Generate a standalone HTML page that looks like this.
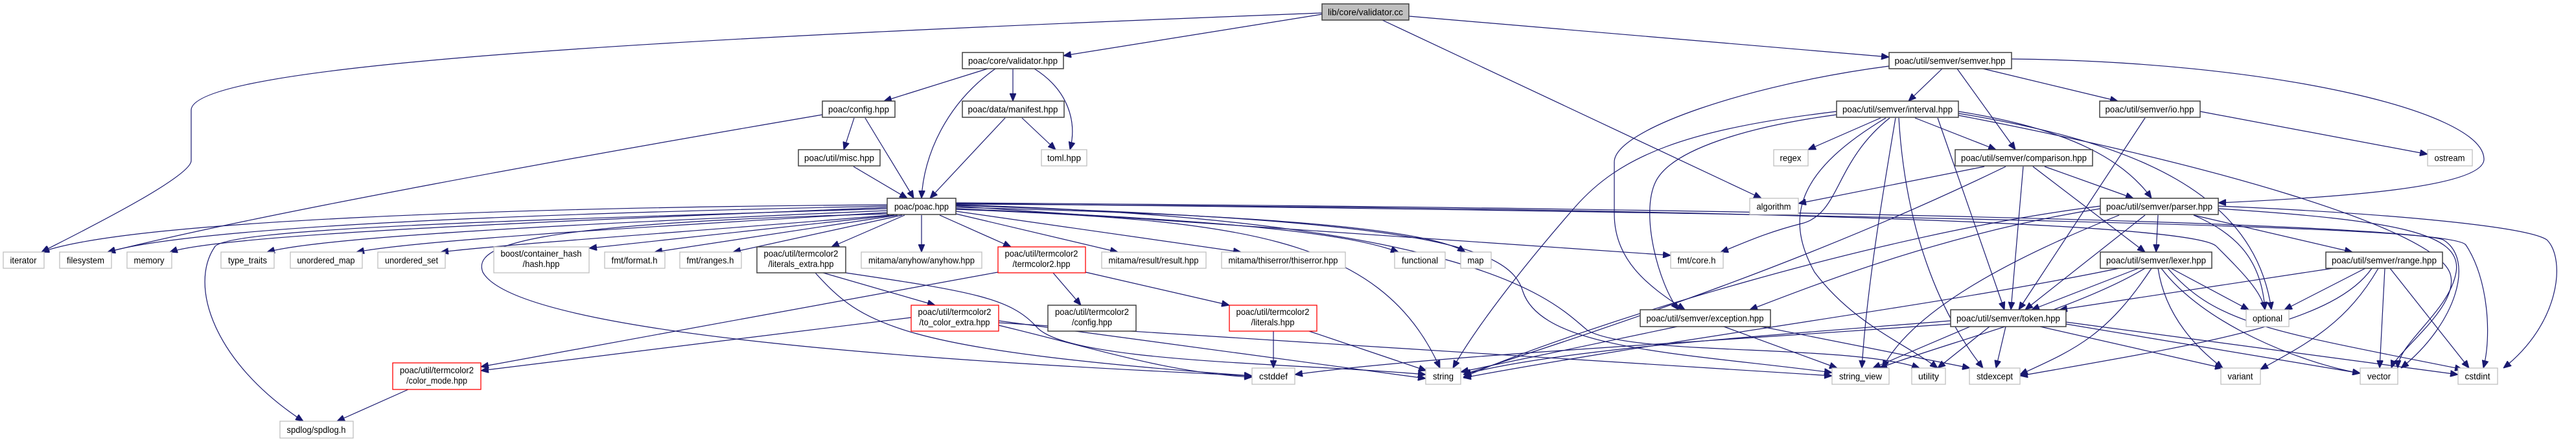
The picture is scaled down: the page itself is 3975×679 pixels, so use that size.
<!DOCTYPE html>
<html><head><meta charset="utf-8"><style>
html,body{margin:0;padding:0;background:#fff;}
svg{display:block;}
text{font-family:"Liberation Sans",Arial,sans-serif;font-size:14px;fill:#000;}
.e{fill:none;stroke:#191970;stroke-width:1.2;marker-end:url(#a);}
.b{fill:#fff;stroke:#404040;stroke-width:1.5;}
.g{fill:#fff;stroke:#bfbfbf;stroke-width:1.3;}
.r{fill:#fff;stroke:#ff0000;stroke-width:1.3;}
</style></head><body>
<svg width="3975" height="679" viewBox="0 0 3975 679" xmlns="http://www.w3.org/2000/svg">
<defs><marker id="a" markerUnits="userSpaceOnUse" markerWidth="12" markerHeight="10" refX="12" refY="5" orient="auto"><path d="M0,0 L12,5 L0,10 z" fill="#191970" stroke="#191970"/></marker></defs>
<g>
<!-- validator.cc -->
<path class="e" d="M2040,22 L1641,86"/>
<path class="e" d="M2174,25 L2915,88"/>
<path class="e" d="M2133,31 L2718,306"/>
<path class="e" d="M2040,20 C1000,60 295,100 295,170 L295,248 C295,275 100,370 64,389"/>
<!-- validator.hpp -->
<path class="e" d="M1524,106 L1364,156"/>
<path class="e" d="M1536,106 C1460,160 1425,240 1422,306"/>
<path class="e" d="M1563,106 L1563,156"/>
<path class="e" d="M1596,106 C1650,140 1662,190 1651,231"/>
<!-- config/misc/manifest -->
<path class="e" d="M1269,177 C900,240 400,330 166,389"/>
<path class="e" d="M1318,182 L1302,231"/>
<path class="e" d="M1335,182 C1370,240 1395,280 1410,306"/>
<path class="e" d="M1317,257 L1400,306"/>
<path class="e" d="M1551,182 L1435,306"/>
<path class="e" d="M1577,182 L1629,231"/>
<!-- poac.hpp -->
<path class="e" d="M1369,316 C800,320 200,340 64,389"/>
<path class="e" d="M1369,318 C800,330 300,350 166,389"/>
<path class="e" d="M1369,320 C900,340 350,360 262,389"/>
<path class="e" d="M1369,322 C800,340 360,352 332,380 C290,440 330,560 468,650"/>
<path class="e" d="M1369,325 C900,345 500,365 412,389"/>
<path class="e" d="M1369,328 C1000,350 650,370 550,389"/>
<path class="e" d="M1372,332 C1100,355 800,375 680,389"/>
<path class="e" d="M1369,330 C800,345 730,380 745,420 C800,520 1500,560 1932,580"/>
<path class="e" d="M1380,332 L909,383"/>
<path class="e" d="M1385,332 L1010,389"/>
<path class="e" d="M1392,332 L1131,389"/>
<path class="e" d="M1396,332 L1283,381"/>
<path class="e" d="M1422,332 L1422,389"/>
<path class="e" d="M1450,332 L1560,381"/>
<path class="e" d="M1475,330 L1725,389"/>
<path class="e" d="M1475,326 L1915,389"/>
<path class="e" d="M1475,322 C1900,340 2080,360 2158,389"/>
<path class="e" d="M1475,320 C1900,330 2200,350 2261,389"/>
<path class="e" d="M1475,318 L2578,394"/>
<path class="e" d="M1475,323 C1900,340 2130,360 2222,568"/>
<path class="e" d="M1475,317 C2200,340 2330,380 2350,450 C2380,540 2600,545 2827,575"/>
<path class="e" d="M1475,316 C2300,340 2400,470 2450,510 C2520,550 2850,530 2962,568"/>
<path class="e" d="M1475,315 C2500,320 3380,340 3420,380 C3460,420 3490,450 3495,478"/>
<path class="e" d="M1475,313 C2500,320 3780,340 3805,378 C3840,430 3845,520 3832,568"/>
<path class="e" d="M1475,314 C2500,325 3700,345 3770,370 C3820,400 3790,500 3705,568"/>
<!-- literals_extra -->
<path class="e" d="M1270,421 L1443,471"/>
<path class="e" d="M1258,421 C1330,500 1380,540 1932,580"/>
<path class="e" d="M1305,421 C1500,450 1560,460 1600,505 C1650,560 2000,560 2200,578"/>
<!-- termcolor2 -->
<path class="e" d="M1540,420 L742,566"/>
<path class="e" d="M1625,421 L1668,471"/>
<path class="e" d="M1675,420 L1897,471"/>
<!-- to_color_extra -->
<path class="e" d="M1406,490 L742,572"/>
<path class="e" d="M1541,502 C1700,540 1800,575 1932,582"/>
<path class="e" d="M1541,495 L2200,584"/>
<path class="e" d="M1541,498 L2827,580"/>
<!-- literals -->
<path class="e" d="M1965,511 L1965,568"/>
<path class="e" d="M2020,511 L2201,572"/>
<!-- color_mode -->
<path class="e" d="M630,601 L520,650"/>
<!-- semver.hpp -->
<path class="e" d="M2997,106 L2945,156"/>
<path class="e" d="M3020,106 L3110,231"/>
<path class="e" d="M3060,106 L3268,156"/>
<path class="e" d="M3104,91 C3500,95 3830,170 3833,245 C3835,290 3600,305 3423,313"/>
<path class="e" d="M2915,102 C2700,130 2491,200 2491,250 L2491,330 C2491,400 2540,440 2600,478"/>
<!-- interval -->
<path class="e" d="M2902,182 L2790,231"/>
<path class="e" d="M2916,182 C2830,250 2840,330 2780,345 C2720,360 2680,380 2655,389"/>
<path class="e" d="M2834,177 C2700,195 2580,230 2555,280 C2530,330 2560,440 2590,478"/>
<path class="e" d="M2834,172 C2600,200 2500,240 2430,320 C2360,400 2280,500 2242,568"/>
<path class="e" d="M2925,182 C2905,300 2880,450 2873,568"/>
<path class="e" d="M2910,182 C2780,260 2750,330 2800,420 C2860,500 2940,530 2990,568"/>
<path class="e" d="M2955,182 L3080,231"/>
<path class="e" d="M3022,172 C3200,200 3280,250 3320,306"/>
<path class="e" d="M2990,182 L3093,478"/>
<path class="e" d="M2930,182 C2940,350 2990,480 3060,568"/>
<path class="e" d="M3022,175 C3300,220 3480,300 3505,478"/>
<path class="e" d="M3022,178 C3400,250 3750,350 3780,420 C3800,470 3700,540 3690,568"/>
<!-- io -->
<path class="e" d="M3395,172 L3746,238"/>
<path class="e" d="M3310,182 L3115,478"/>
<!-- comparison -->
<path class="e" d="M3062,257 L2775,314"/>
<path class="e" d="M3155,257 L3292,306"/>
<path class="e" d="M3137,257 L3310,389"/>
<path class="e" d="M3122,257 L3103,478"/>
<path class="e" d="M3095,257 C2800,400 2500,500 2258,578"/>
<!-- parser -->
<path class="e" d="M3330,332 L3327,389"/>
<path class="e" d="M3385,332 L3630,389"/>
<path class="e" d="M3310,332 L3125,478"/>
<path class="e" d="M3385,332 C3450,360 3490,400 3495,478"/>
<path class="e" d="M3241,322 C3000,360 2800,440 2700,478"/>
<path class="e" d="M3241,318 C2900,360 2450,500 2258,582"/>
<path class="e" d="M3423,318 C3700,330 3900,350 3930,370 C3960,400 3950,500 3863,568"/>
<path class="e" d="M3423,322 C3700,340 3800,360 3790,420 C3780,480 3700,530 3700,568"/>
<path class="e" d="M3270,332 C3100,400 2950,480 2905,568"/>
<!-- lexer -->
<path class="e" d="M3300,414 L3135,478"/>
<path class="e" d="M3350,414 L3470,478"/>
<path class="e" d="M3330,414 C3340,480 3380,530 3430,568"/>
<path class="e" d="M3335,414 C3400,500 3550,560 3642,576"/>
<path class="e" d="M3345,414 C3420,500 3500,510 3800,570"/>
<path class="e" d="M3270,414 C3000,470 2600,520 2258,583"/>
<path class="e" d="M3320,414 C3250,520 3200,540 3117,578"/>
<path class="e" d="M3310,414 C3200,480 3000,530 2900,568"/>
<!-- range -->
<path class="e" d="M3600,414 L3178,478"/>
<path class="e" d="M3650,414 L3525,478"/>
<path class="e" d="M3670,414 C3620,500 3560,530 3488,570"/>
<path class="e" d="M3680,414 L3672,568"/>
<path class="e" d="M3688,414 L3810,568"/>
<path class="e" d="M3660,414 C3600,500 3400,530 3117,580"/>
<!-- token -->
<path class="e" d="M3010,495 C2700,520 2400,540 2258,578"/>
<path class="e" d="M3040,504 L2890,568"/>
<path class="e" d="M3095,504 L3080,568"/>
<path class="e" d="M3070,504 L2990,568"/>
<path class="e" d="M3148,504 L3430,568"/>
<path class="e" d="M3188,500 L3642,576"/>
<path class="e" d="M3188,497 L3793,578"/>
<path class="e" d="M3010,500 C2600,530 2200,550 1998,578"/>
<!-- exception -->
<path class="e" d="M2588,504 L2254,574"/>
<path class="e" d="M2660,504 L2835,568"/>
<path class="e" d="M2718,504 L3040,568"/>
</g>
<g>
<rect x="2040" y="6" width="134" height="25" fill="#bfbfbf" stroke="#404040" stroke-width="1.5"/><text x="2107" y="23.5" text-anchor="middle" textLength="116" lengthAdjust="spacingAndGlyphs">lib/core/validator.cc</text>
<rect class="b" x="1485" y="81" width="156" height="25"/><text x="1563" y="98.5" text-anchor="middle" textLength="138" lengthAdjust="spacingAndGlyphs">poac/core/validator.hpp</text>
<rect class="b" x="2915" y="81" width="189" height="25"/><text x="3009" y="98.5" text-anchor="middle" textLength="171" lengthAdjust="spacingAndGlyphs">poac/util/semver/semver.hpp</text>
<rect class="b" x="1269" y="156" width="112" height="25"/><text x="1325" y="173.5" text-anchor="middle" textLength="94" lengthAdjust="spacingAndGlyphs">poac/config.hpp</text>
<rect class="b" x="1485" y="156" width="157" height="25"/><text x="1563" y="173.5" text-anchor="middle" textLength="139" lengthAdjust="spacingAndGlyphs">poac/data/manifest.hpp</text>
<rect class="b" x="2834" y="156" width="188" height="25"/><text x="2928" y="173.5" text-anchor="middle" textLength="170" lengthAdjust="spacingAndGlyphs">poac/util/semver/interval.hpp</text>
<rect class="b" x="3240" y="156" width="155" height="25"/><text x="3317" y="173.5" text-anchor="middle" textLength="137" lengthAdjust="spacingAndGlyphs">poac/util/semver/io.hpp</text>
<rect class="b" x="1232" y="231" width="126" height="25"/><text x="1295" y="248.5" text-anchor="middle" textLength="108" lengthAdjust="spacingAndGlyphs">poac/util/misc.hpp</text>
<rect class="g" x="1607" y="231" width="70" height="25"/><text x="1642" y="248.5" text-anchor="middle" textLength="52" lengthAdjust="spacingAndGlyphs">toml.hpp</text>
<rect class="g" x="2737" y="231" width="53" height="25"/><text x="2763" y="248.5" text-anchor="middle" textLength="33" lengthAdjust="spacingAndGlyphs">regex</text>
<rect class="b" x="3017" y="231" width="212" height="25"/><text x="3123" y="248.5" text-anchor="middle" textLength="194" lengthAdjust="spacingAndGlyphs">poac/util/semver/comparison.hpp</text>
<rect class="g" x="3746" y="231" width="69" height="25"/><text x="3780" y="248.5" text-anchor="middle" textLength="47" lengthAdjust="spacingAndGlyphs">ostream</text>
<rect class="b" x="1369" y="306" width="106" height="25"/><text x="1422" y="323.5" text-anchor="middle" textLength="84" lengthAdjust="spacingAndGlyphs">poac/poac.hpp</text>
<rect class="g" x="2700" y="306" width="75" height="25"/><text x="2737" y="323.5" text-anchor="middle" textLength="53" lengthAdjust="spacingAndGlyphs">algorithm</text>
<rect class="b" x="3241" y="306" width="182" height="25"/><text x="3332" y="323.5" text-anchor="middle" textLength="164" lengthAdjust="spacingAndGlyphs">poac/util/semver/parser.hpp</text>

<rect class="g" x="5" y="389" width="63" height="25"/><text x="36" y="406.5" text-anchor="middle" textLength="41" lengthAdjust="spacingAndGlyphs">iterator</text>
<rect class="g" x="92" y="389" width="80" height="25"/><text x="132" y="406.5" text-anchor="middle" textLength="58" lengthAdjust="spacingAndGlyphs">filesystem</text>
<rect class="g" x="196" y="389" width="69" height="25"/><text x="230" y="406.5" text-anchor="middle" textLength="47" lengthAdjust="spacingAndGlyphs">memory</text>
<rect class="g" x="341" y="389" width="82" height="25"/><text x="382" y="406.5" text-anchor="middle" textLength="60" lengthAdjust="spacingAndGlyphs">type_traits</text>
<rect class="g" x="448" y="389" width="111" height="25"/><text x="503" y="406.5" text-anchor="middle" textLength="89" lengthAdjust="spacingAndGlyphs">unordered_map</text>
<rect class="g" x="583" y="389" width="104" height="25"/><text x="635" y="406.5" text-anchor="middle" textLength="82" lengthAdjust="spacingAndGlyphs">unordered_set</text>
<rect class="g" x="762" y="381" width="147" height="40"/><text x="835" y="396" text-anchor="middle" textLength="125" lengthAdjust="spacingAndGlyphs">boost/container_hash</text><text x="835" y="412" text-anchor="middle" textLength="57" lengthAdjust="spacingAndGlyphs">/hash.hpp</text>
<rect class="g" x="933" y="389" width="93" height="25"/><text x="979" y="406.5" text-anchor="middle" textLength="71" lengthAdjust="spacingAndGlyphs">fmt/format.h</text>
<rect class="g" x="1049" y="389" width="95" height="25"/><text x="1096" y="406.5" text-anchor="middle" textLength="73" lengthAdjust="spacingAndGlyphs">fmt/ranges.h</text>
<rect class="b" x="1168" y="381" width="137" height="40"/><text x="1236" y="396" text-anchor="middle" textLength="115" lengthAdjust="spacingAndGlyphs">poac/util/termcolor2</text><text x="1236" y="412" text-anchor="middle" textLength="101" lengthAdjust="spacingAndGlyphs">/literals_extra.hpp</text>
<rect class="g" x="1329" y="389" width="186" height="25"/><text x="1422" y="406.5" text-anchor="middle" textLength="164" lengthAdjust="spacingAndGlyphs">mitama/anyhow/anyhow.hpp</text>
<rect class="r" x="1540" y="381" width="135" height="40"/><text x="1607" y="396" text-anchor="middle" textLength="113" lengthAdjust="spacingAndGlyphs">poac/util/termcolor2</text><text x="1607" y="412" text-anchor="middle" textLength="89" lengthAdjust="spacingAndGlyphs">/termcolor2.hpp</text>
<rect class="g" x="1700" y="389" width="161" height="25"/><text x="1780" y="406.5" text-anchor="middle" textLength="139" lengthAdjust="spacingAndGlyphs">mitama/result/result.hpp</text>
<rect class="g" x="1885" y="389" width="191" height="25"/><text x="1980" y="406.5" text-anchor="middle" textLength="169" lengthAdjust="spacingAndGlyphs">mitama/thiserror/thiserror.hpp</text>
<rect class="g" x="2152" y="389" width="78" height="25"/><text x="2191" y="406.5" text-anchor="middle" textLength="56" lengthAdjust="spacingAndGlyphs">functional</text>
<rect class="g" x="2254" y="389" width="47" height="25"/><text x="2277" y="406.5" text-anchor="middle" textLength="25" lengthAdjust="spacingAndGlyphs">map</text>
<rect class="g" x="2578" y="389" width="81" height="25"/><text x="2618" y="406.5" text-anchor="middle" textLength="59" lengthAdjust="spacingAndGlyphs">fmt/core.h</text>
<rect class="b" x="3241" y="389" width="172" height="25"/><text x="3327" y="406.5" text-anchor="middle" textLength="154" lengthAdjust="spacingAndGlyphs">poac/util/semver/lexer.hpp</text>
<rect class="b" x="3589" y="389" width="180" height="25"/><text x="3679" y="406.5" text-anchor="middle" textLength="162" lengthAdjust="spacingAndGlyphs">poac/util/semver/range.hpp</text>

<rect class="r" x="1406" y="471" width="135" height="40"/><text x="1473" y="486" text-anchor="middle" textLength="113" lengthAdjust="spacingAndGlyphs">poac/util/termcolor2</text><text x="1473" y="502" text-anchor="middle" textLength="109" lengthAdjust="spacingAndGlyphs">/to_color_extra.hpp</text>
<rect class="b" x="1617" y="471" width="136" height="40"/><text x="1685" y="486" text-anchor="middle" textLength="114" lengthAdjust="spacingAndGlyphs">poac/util/termcolor2</text><text x="1685" y="502" text-anchor="middle" textLength="62" lengthAdjust="spacingAndGlyphs">/config.hpp</text>
<rect class="r" x="1897" y="471" width="135" height="40"/><text x="1964" y="486" text-anchor="middle" textLength="113" lengthAdjust="spacingAndGlyphs">poac/util/termcolor2</text><text x="1964" y="502" text-anchor="middle" textLength="67" lengthAdjust="spacingAndGlyphs">/literals.hpp</text>
<rect class="b" x="2531" y="478" width="201" height="26"/><text x="2631" y="496" text-anchor="middle" textLength="181" lengthAdjust="spacingAndGlyphs">poac/util/semver/exception.hpp</text>
<rect class="b" x="3010" y="478" width="178" height="26"/><text x="3099" y="496" text-anchor="middle" textLength="160" lengthAdjust="spacingAndGlyphs">poac/util/semver/token.hpp</text>
<rect class="g" x="3466" y="478" width="66" height="26"/><text x="3499" y="496" text-anchor="middle" textLength="46" lengthAdjust="spacingAndGlyphs">optional</text>

<rect class="r" x="606" y="560" width="136" height="41"/><text x="674" y="576" text-anchor="middle" textLength="114" lengthAdjust="spacingAndGlyphs">poac/util/termcolor2</text><text x="674" y="592" text-anchor="middle" textLength="94" lengthAdjust="spacingAndGlyphs">/color_mode.hpp</text>

<rect class="g" x="1932" y="568" width="66" height="25"/><text x="1965" y="585.5" text-anchor="middle" textLength="44" lengthAdjust="spacingAndGlyphs">cstddef</text>
<rect class="g" x="2200" y="568" width="54" height="25"/><text x="2227" y="585.5" text-anchor="middle" textLength="32" lengthAdjust="spacingAndGlyphs">string</text>
<rect class="g" x="2827" y="568" width="88" height="25"/><text x="2871" y="585.5" text-anchor="middle" textLength="66" lengthAdjust="spacingAndGlyphs">string_view</text>
<rect class="g" x="2950" y="568" width="52" height="25"/><text x="2976" y="585.5" text-anchor="middle" textLength="32" lengthAdjust="spacingAndGlyphs">utility</text>
<rect class="g" x="3039" y="568" width="78" height="25"/><text x="3078" y="585.5" text-anchor="middle" textLength="56" lengthAdjust="spacingAndGlyphs">stdexcept</text>
<rect class="g" x="3427" y="568" width="61" height="25"/><text x="3457" y="585.5" text-anchor="middle" textLength="39" lengthAdjust="spacingAndGlyphs">variant</text>
<rect class="g" x="3642" y="568" width="58" height="25"/><text x="3671" y="585.5" text-anchor="middle" textLength="36" lengthAdjust="spacingAndGlyphs">vector</text>
<rect class="g" x="3793" y="568" width="61" height="25"/><text x="3823" y="585.5" text-anchor="middle" textLength="39" lengthAdjust="spacingAndGlyphs">cstdint</text>
<rect class="g" x="432" y="650" width="113" height="26"/><text x="488" y="668" text-anchor="middle" textLength="91" lengthAdjust="spacingAndGlyphs">spdlog/spdlog.h</text>
</g>
</svg>
</body></html>
